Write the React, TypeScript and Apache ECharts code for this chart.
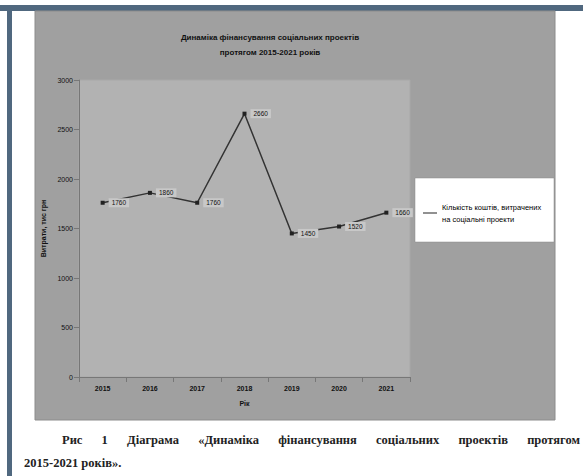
import React, { useEffect, useRef } from "react";
import * as echarts from "echarts";

const years = ["2015", "2016", "2017", "2018", "2019", "2020", "2021"];
const spending = [1760, 1860, 1760, 2660, 1450, 1520, 1660];
const seriesName = "Кількість коштів, витрачених\nна соціальні проекти";
const chartTitle = "Динаміка фінансування соціальних проектів\nпротягом 2015-2021 років";
const captionLine1 = "Рис 1 Діаграма «Динаміка фінансування соціальних проектів протягом";
const captionLine2 = "2015-2021 років».";

const captionFont = "bold 12.5px 'Liberation Serif'";

function justifiedWords(line: string, x0: number, x1: number, y: number) {
  const words = line.split(" ");
  const ctx = document.createElement("canvas").getContext("2d")!;
  ctx.font = captionFont;
  const widths = words.map((w) => ctx.measureText(w).width);
  const total = widths.reduce((a, b) => a + b, 0);
  const gap = (x1 - x0 - total) / (words.length - 1);
  let x = x0;
  return words.map((w, i) => {
    const el = {
      type: "text",
      x,
      y,
      style: { text: w, font: captionFont, fill: "#222" },
    };
    x += widths[i] + gap;
    return el;
  });
}

export default function App() {
  const ref = useRef<HTMLDivElement>(null);
  useEffect(() => {
    if (!ref.current) return;
    const chart = echarts.init(ref.current, null, { renderer: "svg" });
    chart.setOption({
      animation: false,
      backgroundColor: "#ffffff",
      title: {
        text: chartTitle,
        left: 265,
        top: 25,
        textAlign: "center",
        textStyle: {
          fontFamily: "Liberation Sans",
          fontSize: 8,
          fontWeight: "bold",
          color: "#111",
          lineHeight: 15,
        },
      },
      graphic: [
        { type: "rect", z: -10, shape: { x: 0, y: 5, width: 583, height: 6 }, style: { fill: "#50687f" } },
        { type: "rect", z: -10, shape: { x: 7, y: 5, width: 5, height: 471 }, style: { fill: "#50687f" } },
        { type: "rect", z: -10, shape: { x: 35, y: 11, width: 520, height: 409 }, style: { fill: "#a0a0a0", stroke: "#8c8c8c", lineWidth: 1 } },
        { type: "rect", z: -5, shape: { x: 415, y: 178, width: 139, height: 64 }, style: { fill: "#ffffff", stroke: "#888", lineWidth: 0.5 } },
        ...justifiedWords(captionLine1, 62, 580, 433),
        {
          type: "text", x: 24, y: 456,
          style: { text: captionLine2, font: captionFont, fill: "#222" },
        },
      ],
      legend: {
        left: 418,
        top: 196,
        orient: "vertical",
        itemWidth: 14,
        itemHeight: 6,
        itemGap: 4,
        textStyle: { fontFamily: "Liberation Sans", fontSize: 7.5, color: "#000", lineHeight: 12 },
        data: [{ name: seriesName, icon: "path://M0,3L14,3L14,4L0,4Z" }],
      },
      grid: {
        left: 79,
        top: 80,
        width: 331,
        height: 297,
        show: true,
        backgroundColor: "#b2b2b2",
        borderColor: "#a8a8a8",
        borderWidth: 1,
      },
      xAxis: {
        type: "category",
        data: years,
        name: "Рік",
        nameLocation: "middle",
        nameGap: 23,
        nameTextStyle: { fontFamily: "Liberation Sans", fontSize: 7, fontWeight: "bold", color: "#111" },
        axisLine: { lineStyle: { color: "#777" } },
        axisTick: { show: true, lineStyle: { color: "#777" } },
        axisLabel: { fontFamily: "Liberation Sans", fontSize: 7, fontWeight: "bold", color: "#111", margin: 8 },
      },
      yAxis: {
        type: "value",
        min: 0,
        max: 3000,
        interval: 500,
        name: "Витрати, тис грн",
        nameLocation: "middle",
        nameGap: 32,
        nameTextStyle: { fontFamily: "Liberation Sans", fontSize: 7, fontWeight: "bold", color: "#111" },
        axisLine: { show: true, lineStyle: { color: "#777" } },
        axisTick: { show: true, lineStyle: { color: "#777" } },
        splitLine: { show: false },
        axisLabel: {
          fontFamily: "Liberation Sans",
          fontSize: 7,
          color: "#111",
          margin: 6,
          formatter: (v: number) => String(v),
        },
      },
      series: [
        {
          name: seriesName,
          type: "line",
          data: spending,
          symbol: "rect",
          symbolSize: 4,
          itemStyle: { color: "#222" },
          lineStyle: { color: "#333", width: 1.5 },
          label: {
            show: true,
            position: "right",
            distance: 4,
            fontFamily: "Liberation Sans",
            fontSize: 6.5,
            color: "#111",
            backgroundColor: "#c8c8c8",
            padding: [1, 3],
          },
        },
      ],
    });
    return () => chart.dispose();
  }, []);
  return (
    <div
      ref={ref}
      style={{ position: "fixed", left: 0, top: 0, width: 583, height: 476 }}
    />
  );
}
